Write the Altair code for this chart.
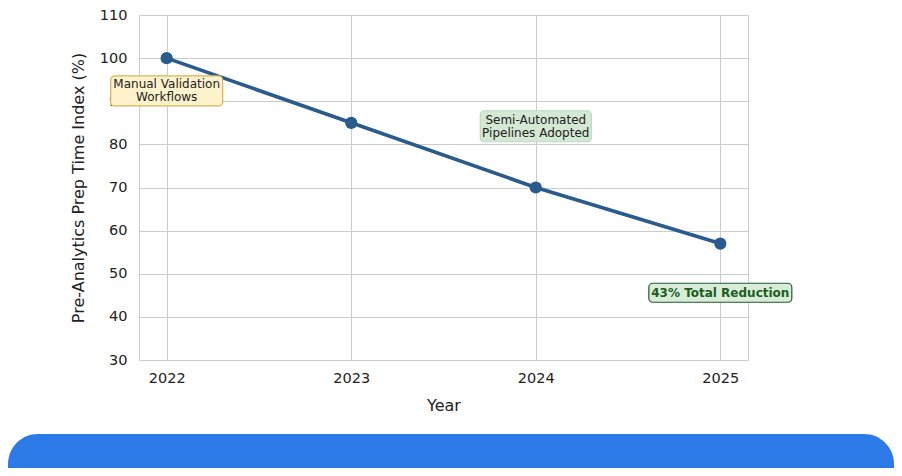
import pandas as pd
import altair as alt

# Data
years = [2022, 2023, 2024, 2025]
prep_index = [100, 85, 70, 57]

note_text = ["Manual Validation\nWorkflows", "Semi-Automated\nPipelines Adopted", "43% Total Reduction"]
note_year = [2022, 2024, 2025]
note_value = [92.4, 84.2, 45.6]

df = pd.DataFrame({"Year": years, "Index": prep_index})

font = "DejaVu Sans"
line_color = "#2a5b8e"

x_enc = alt.X("Year:Q", title="Year").scale(domain=[2021.85, 2025.15], nice=False, zero=False).axis(
    values=years, format="d", labelPadding=11, titlePadding=13
)
y_enc = alt.Y("Index:Q", title="Pre-Analytics Prep Time Index (%)").scale(domain=[30, 110], nice=False, zero=False).axis(
    values=list(range(30, 111, 10)), labelPadding=12, titlePadding=13
)

# Blue footer band (decoration)
band = alt.Chart(pd.DataFrame({"k": [0]})).mark_rect(
    color="#2c79e8", cornerRadius=30
).encode(x=alt.value(-131), x2=alt.value(755), y=alt.value(419), y2=alt.value(520))

line = alt.Chart(df).mark_line(color=line_color, strokeWidth=3.6).encode(x=x_enc, y=y_enc)
points = alt.Chart(df).mark_circle(color=line_color, opacity=1, size=150).encode(x="Year:Q", y="Index:Q")

def note(i, fill, stroke, w, h, color, weight="normal", dy=0):
    d = pd.DataFrame({"Year": [note_year[i]], "Index": [note_value[i]], "label": [note_text[i]]})
    box = alt.Chart(d).mark_rect(
        fill=fill, stroke=stroke, strokeWidth=1.2, width=w, height=h, cornerRadius=4
    ).encode(x="Year:Q", y="Index:Q")
    txt = alt.Chart(d).mark_text(
        font=font, fontSize=12, color=color, fontWeight=weight, lineBreak="\n", lineHeight=13,
        baseline="middle", dy=dy
    ).encode(x="Year:Q", y="Index:Q", text="label:N")
    return box + txt

n1 = note(0, "#fff2cc", "#d6b656", 112, 30, "#222222", dy=-6.5)
n2 = note(1, "#d5e8d4", "#b9d9c2", 111, 31, "#222222", dy=-6.5)
n3 = note(2, "#d8ecd9", "#1e5e2a", 143, 19, "#1b5e20", "bold")

chart = alt.layer(band, line, points, n1, n2, n3).properties(
    width=609,
    height=345,
    autosize=alt.AutoSizeParams(type="none"),
    padding={"left": 131, "top": 7, "right": 146, "bottom": 108},
).configure_view(
    stroke="#cccccc", strokeWidth=1
).configure_axis(
    labelFont=font, titleFont=font, labelFontSize=14.5, titleFontSize=16,
    labelColor="#222222", titleColor="#222222", titleFontWeight="normal",
    ticks=False, domain=False, gridColor="#cccccc", gridWidth=1
)

chart.save("out.html", embed_options={"renderer": "svg", "actions": False})
